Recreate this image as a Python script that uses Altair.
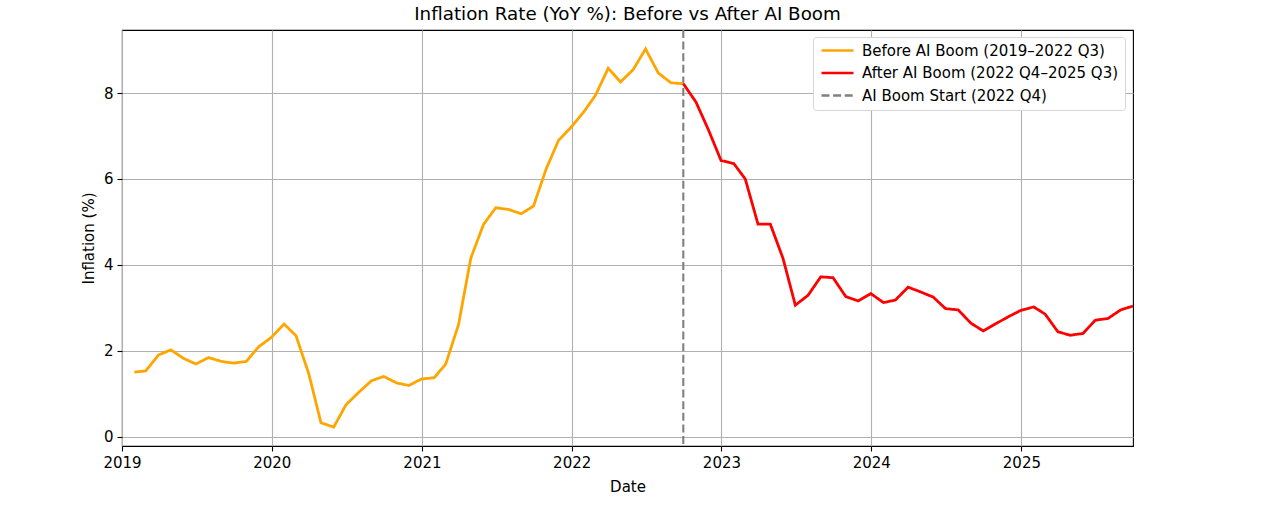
import altair as alt
import pandas as pd

# Monthly US CPI inflation, year over year (%), Jan 2019 - Sep 2025 (month-end dates)
inflation = [
    1.50, 1.53, 1.90, 2.02, 1.82, 1.69, 1.84, 1.75, 1.71, 1.75, 2.09, 2.31,  # 2019
    2.62, 2.35, 1.47, 0.32, 0.22, 0.74, 1.03, 1.30, 1.40, 1.25, 1.19, 1.34,  # 2020
    1.37, 1.69, 2.60, 4.15, 4.94, 5.33, 5.29, 5.19, 5.37, 6.24, 6.90, 7.21,  # 2021
    7.57, 7.95, 8.58, 8.26, 8.55, 9.03, 8.47, 8.24, 8.22, 7.79, 7.15, 6.43,  # 2022
    6.36, 6.00, 4.95, 4.95, 4.15, 3.06, 3.29, 3.72, 3.70, 3.26, 3.16, 3.33,  # 2023
    3.12, 3.18, 3.48, 3.37, 3.25, 2.98, 2.95, 2.64, 2.46, 2.63, 2.79, 2.94,  # 2024
    3.02, 2.85, 2.44, 2.36, 2.40, 2.71, 2.75, 2.95, 3.04,                    # 2025
]
dates = pd.date_range("2019-01-31", periods=len(inflation), freq="ME").strftime("%Y-%m-%d").tolist()

boom_date = "2022-09-30"
before_label = "Before AI Boom (2019–2022 Q3)"
after_label = "After AI Boom (2022 Q4–2025 Q3)"
boom_label = "AI Boom Start (2022 Q4)"
series_names = [before_label, after_label, boom_label]
series_colors = ["#FFA500", "#FF0000", "#808080"]
series_dashes = [[1, 0], [1, 0], [8, 3.6]]
year_ticks = list(range(2019, 2026))
y_ticks = [0, 2, 4, 6, 8]

FONT = "DejaVu Sans"
TEXT_SIZE = 15
TITLE_SIZE = 18.3

rows = []
for d, v in zip(dates, inflation):
    if d <= boom_date:
        rows.append({"date": d, "inflation": v, "series": before_label})
    if d >= boom_date:
        rows.append({"date": d, "inflation": v, "series": after_label})
df = pd.DataFrame(rows)
boom_df = pd.DataFrame({"date": [boom_date], "series": [boom_label]})

lo, hi = min(inflation), max(inflation)
pad = (hi - lo) * 0.05

x_scale = alt.Scale(
    type="utc",
    domain=[alt.DateTime(year=2019, month=1, date=1, utc=True),
            alt.DateTime(year=2025, month=9, date=30, utc=True)],
    nice=False,
)
x_axis = alt.Axis(
    title="Date",
    values=[alt.DateTime(year=y, month=1, date=1, utc=True) for y in year_ticks],
    format="%Y",
    labelAngle=0,
    labelFlush=False,
)
# a long horizontal line handle drawn from a small symbol size keeps the rows compact
legend = alt.Legend(
    title=None, orient="none", legendX=691, legendY=7,
    symbolType="M-1,0L5.4,0", symbolSize=100, symbolStrokeWidth=2.4,
    labelFontSize=TEXT_SIZE, labelFont=FONT, labelColor="black", labelLimit=400,
    fillColor="white", strokeColor="#d5d5d5", cornerRadius=3,
    padding=6, rowPadding=6.5, labelOffset=28,
)
color = alt.Color("series:N", scale=alt.Scale(domain=series_names, range=series_colors), legend=legend)
dash = alt.StrokeDash("series:N", scale=alt.Scale(domain=series_names, range=series_dashes), legend=legend)

lines = alt.Chart(df).mark_line(strokeWidth=2.8).encode(
    x=alt.X("date:T", scale=x_scale, axis=x_axis),
    y=alt.Y("inflation:Q", title="Inflation (%)",
            scale=alt.Scale(domain=[lo - pad, hi + pad], nice=False, zero=False),
            axis=alt.Axis(values=y_ticks)),
    color=color,
    strokeDash=dash,
    detail="series:N",
)

boom_rule = alt.Chart(boom_df).mark_rule(strokeWidth=2.1).encode(
    x=alt.X("date:T", scale=x_scale),
    color=color,
    strokeDash=dash,
)

chart = alt.layer(boom_rule, lines).properties(
    width=1011,
    height=416,
    background="white",
    title=alt.TitleParams("Inflation Rate (YoY %): Before vs After AI Boom",
                          font=FONT, fontSize=TITLE_SIZE, fontWeight="normal",
                          color="black", anchor="middle", offset=5),
    padding={"left": 122, "top": 30, "right": 147, "bottom": 59},
    autosize="none",
).configure_view(
    stroke="black", strokeWidth=1.1,
).configure_axis(
    domain=False,
    grid=True, gridColor="#b0b0b0", gridWidth=1.1,
    ticks=True, tickColor="black", tickWidth=1.1, tickSize=5,
    labelFont=FONT, labelFontSize=TEXT_SIZE, labelColor="black", labelPadding=4,
    titleFont=FONT, titleFontSize=TEXT_SIZE, titleFontWeight="normal", titleColor="black",
).configure_axisY(
    titlePadding=7,
).configure_axisX(
    titlePadding=9,
)

chart.save("out.html", embed_options={"renderer": "svg", "actions": False})
